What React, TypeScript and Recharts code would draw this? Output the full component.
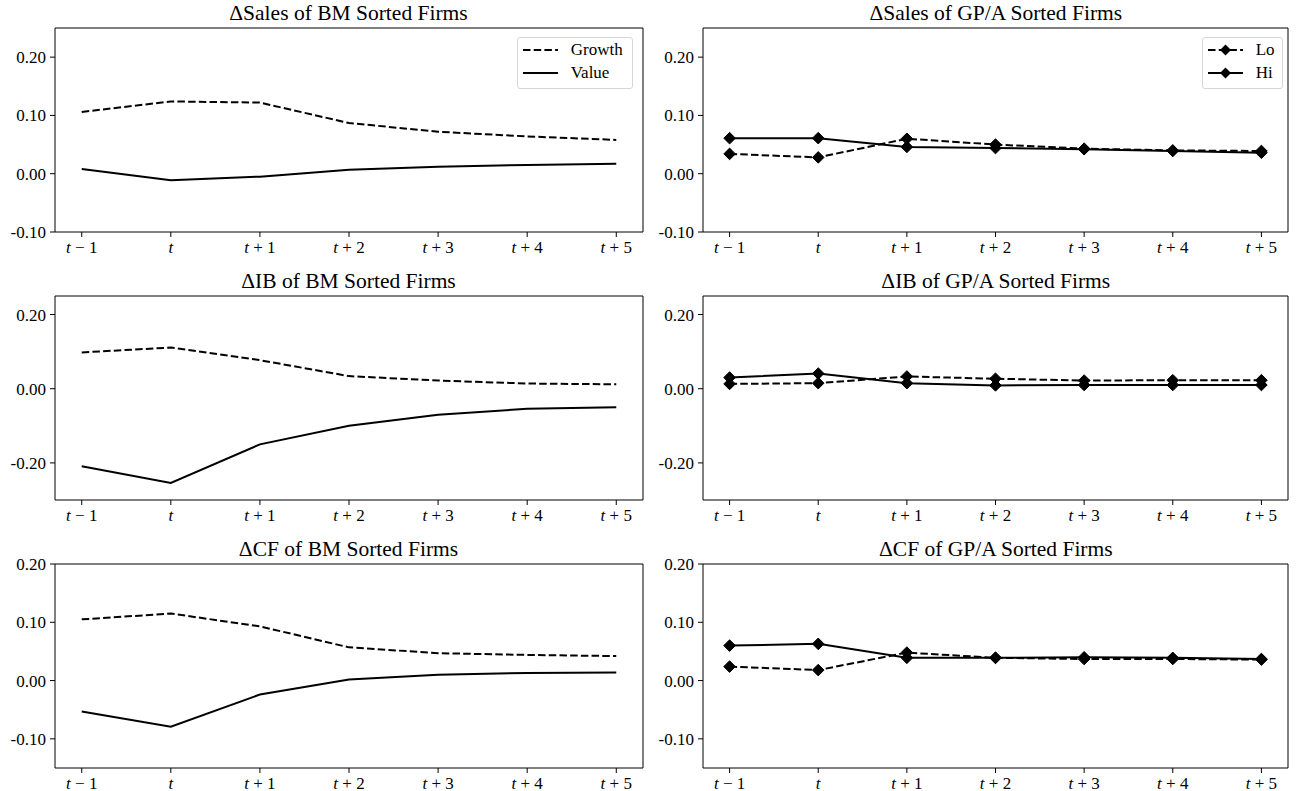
import React from 'react';
import { LineChart, Line, XAxis, YAxis, ReferenceLine } from 'recharts';

// horizon labels (the leading "t" is drawn italic)
const periodLabels = ['t − 1', 't', 't + 1', 't + 2', 't + 3', 't + 4', 't + 5'];

// ΔSales
const salesGrowth = [0.106, 0.124, 0.122, 0.087, 0.072, 0.064, 0.058];
const salesValue = [0.008, -0.011, -0.005, 0.007, 0.012, 0.015, 0.017];
const salesLo = [0.034, 0.028, 0.060, 0.050, 0.043, 0.040, 0.039];
const salesHi = [0.061, 0.061, 0.046, 0.044, 0.042, 0.039, 0.036];

// ΔIB
const ibGrowth = [0.098, 0.111, 0.077, 0.034, 0.022, 0.014, 0.012];
const ibValue = [-0.209, -0.254, -0.150, -0.100, -0.070, -0.054, -0.050];
const ibLo = [0.013, 0.015, 0.033, 0.027, 0.022, 0.023, 0.023];
const ibHi = [0.030, 0.041, 0.015, 0.009, 0.010, 0.010, 0.010];

// ΔCF
const cfGrowth = [0.105, 0.115, 0.093, 0.057, 0.047, 0.044, 0.042];
const cfValue = [-0.053, -0.079, -0.024, 0.002, 0.010, 0.013, 0.014];
const cfLo = [0.024, 0.018, 0.048, 0.039, 0.037, 0.037, 0.036];
const cfHi = [0.060, 0.063, 0.039, 0.039, 0.040, 0.039, 0.037];

const bmNames = ['Growth', 'Value'];
const gpNames = ['Lo', 'Hi'];

const salesTicks = [-0.1, 0, 0.1, 0.2];
const ibTicks = [-0.2, 0, 0.2];
const cfTicks = [-0.1, 0, 0.1, 0.2];

const FONT = '"Liberation Serif", "DejaVu Serif", serif';
const DASH = '7.5 3.2';
const TICK_FS = 17;
const TITLE_FS = 21.5;
const Y_AXIS_W = 54;
const PLOT_H = 204;
const TOP_M = 28;
const X_AXIS_H = 28;
const RIGHT_M = 6;
const LEFT_X = 54.5;
const LEFT_W = 588;
const RIGHT_X = 703.3;
const RIGHT_W = 585;
const ROW_TOPS = [28, 296, 564];
const X_DOMAIN: [number, number] = [-0.3, 6.3];

function buildRows(a: number[], b: number[]) {
  return periodLabels.map((_, i) => ({ x: i, a: a[i], b: b[i] }));
}

const PeriodTick = (props: any) => {
  const { x, y, payload } = props;
  const label = periodLabels[payload.value] ?? '';
  return (
    <text x={x} y={y} dy="0.71em" textAnchor="middle" fontFamily={FONT} fontSize={TICK_FS} fill="#000">
      <tspan fontStyle="italic">{label.charAt(0)}</tspan>
      {label.length > 1 ? <tspan>{label.slice(1)}</tspan> : null}
    </text>
  );
};

const diamondPoints = (cx: number, cy: number, r: number) =>
  `${cx},${cy - r} ${cx + r},${cy} ${cx},${cy + r} ${cx - r},${cy}`;

const Diamond = (props: any) => {
  const { cx, cy, index } = props;
  if (cx == null || cy == null) return <g key={`d-${index}`} />;
  return <polygon key={`d-${index}`} points={diamondPoints(cx, cy, 5.8)} fill="#000" stroke="#000" strokeWidth={1} />;
};

function LegendBox({ names, markers, left, top, width }: { names: string[]; markers: boolean; left: number; top: number; width: number }) {
  return (
    <div
      style={{
        position: 'absolute',
        left,
        top,
        width,
        height: 52.6,
        boxSizing: 'border-box',
        border: '1px solid #d6d6d6',
        borderRadius: 3,
        background: 'rgba(255,255,255,0.8)',
        fontFamily: FONT,
        fontSize: TICK_FS,
        color: '#000',
      }}
    >
      {names.map((name, i) => (
        <div key={name} style={{ position: 'absolute', left: 0, top: 2.3 + i * 22.7, height: 20, width: '100%' }}>
          <svg width={48} height={20} style={{ position: 'absolute', left: 0, top: 0 }}>
            <line x1={5} x2={40} y1={10} y2={10} stroke="#000" strokeWidth={2} strokeDasharray={i === 0 ? DASH : undefined} />
            {markers ? <polygon points={diamondPoints(22.5, 10, 5.5)} fill="#000" /> : null}
          </svg>
          <span style={{ position: 'absolute', left: 53, top: 0, lineHeight: '20px' }}>{name}</span>
        </div>
      ))}
    </div>
  );
}

type PanelProps = {
  title: string;
  a: number[];
  b: number[];
  names: string[];
  domain: [number, number];
  ticks: number[];
  plotLeft: number;
  plotTop: number;
  plotW: number;
  markers: boolean;
};

function Panel({ title, a, b, names, domain, ticks, plotLeft, plotTop, plotW, markers }: PanelProps) {
  const chartLeft = plotLeft - Y_AXIS_W;
  const chartTop = plotTop - TOP_M;
  const width = Y_AXIS_W + plotW + RIGHT_M;
  const height = TOP_M + PLOT_H + X_AXIS_H;
  const rows = buildRows(a, b);
  return (
    <>
      <div
        style={{
          position: 'absolute',
          left: plotLeft,
          top: plotTop - 25,
          width: plotW,
          textAlign: 'center',
          fontFamily: FONT,
          fontSize: TITLE_FS,
          lineHeight: '21px',
          color: '#000',
          whiteSpace: 'nowrap',
        }}
      >
        {title}
      </div>
      <div style={{ position: 'absolute', left: chartLeft, top: chartTop }}>
        <LineChart width={width} height={height} data={rows} margin={{ top: TOP_M, right: RIGHT_M, bottom: 0, left: 0 }}>
          <XAxis
            dataKey="x"
            type="number"
            domain={X_DOMAIN}
            ticks={[0, 1, 2, 3, 4, 5, 6]}
            allowDataOverflow
            interval={0}
            height={X_AXIS_H}
            tick={<PeriodTick />}
            tickSize={5}
            tickMargin={4}
            tickLine={{ stroke: '#000' }}
            axisLine={{ stroke: '#000' }}
          />
          <YAxis
            type="number"
            domain={domain}
            ticks={ticks}
            allowDataOverflow
            interval={0}
            width={Y_AXIS_W}
            tickFormatter={(v: number) => v.toFixed(2)}
            tick={{ fill: '#000', fontFamily: FONT, fontSize: TICK_FS }}
            tickSize={5}
            tickMargin={4}
            tickLine={{ stroke: '#000' }}
            axisLine={{ stroke: '#000' }}
          />
          {/* top and right spines */}
          <ReferenceLine y={domain[1]} stroke="#000" strokeWidth={1} />
          <ReferenceLine x={X_DOMAIN[1]} stroke="#000" strokeWidth={1} />
          <Line
            name={names[0]}
            type="linear"
            dataKey="a"
            stroke="#000"
            strokeWidth={2}
            strokeDasharray={DASH}
            dot={markers ? Diamond : false}
            activeDot={false}
            isAnimationActive={false}
          />
          <Line
            name={names[1]}
            type="linear"
            dataKey="b"
            stroke="#000"
            strokeWidth={2}
            dot={markers ? Diamond : false}
            activeDot={false}
            isAnimationActive={false}
          />
        </LineChart>
      </div>
    </>
  );
}

export default function App() {
  return (
    <div style={{ position: 'absolute', left: 0, top: 0, width: 1296, height: 791, background: '#fff' }}>
      <Panel title="ΔSales of BM Sorted Firms" a={salesGrowth} b={salesValue} names={bmNames} domain={[-0.1, 0.25]} ticks={salesTicks}
        plotLeft={LEFT_X} plotTop={ROW_TOPS[0]} plotW={LEFT_W} markers={false} />
      <Panel title="ΔSales of GP/A Sorted Firms" a={salesLo} b={salesHi} names={gpNames} domain={[-0.1, 0.25]} ticks={salesTicks}
        plotLeft={RIGHT_X} plotTop={ROW_TOPS[0]} plotW={RIGHT_W} markers />
      <Panel title="ΔIB of BM Sorted Firms" a={ibGrowth} b={ibValue} names={bmNames} domain={[-0.3, 0.25]} ticks={ibTicks}
        plotLeft={LEFT_X} plotTop={ROW_TOPS[1]} plotW={LEFT_W} markers={false} />
      <Panel title="ΔIB of GP/A Sorted Firms" a={ibLo} b={ibHi} names={gpNames} domain={[-0.3, 0.25]} ticks={ibTicks}
        plotLeft={RIGHT_X} plotTop={ROW_TOPS[1]} plotW={RIGHT_W} markers />
      <Panel title="ΔCF of BM Sorted Firms" a={cfGrowth} b={cfValue} names={bmNames} domain={[-0.15, 0.2]} ticks={cfTicks}
        plotLeft={LEFT_X} plotTop={ROW_TOPS[2]} plotW={LEFT_W} markers={false} />
      <Panel title="ΔCF of GP/A Sorted Firms" a={cfLo} b={cfHi} names={gpNames} domain={[-0.15, 0.2]} ticks={cfTicks}
        plotLeft={RIGHT_X} plotTop={ROW_TOPS[2]} plotW={RIGHT_W} markers />
      <LegendBox names={bmNames} markers={false} left={516.7} top={36.7} width={116.6} />
      <LegendBox names={gpNames} markers left={1201.7} top={36.7} width={81} />
    </div>
  );
}
